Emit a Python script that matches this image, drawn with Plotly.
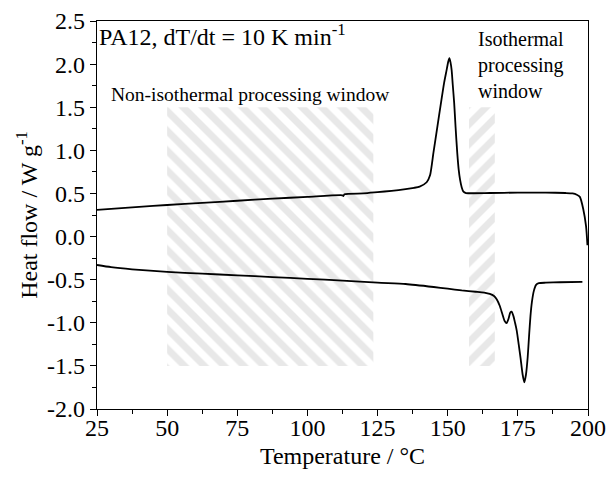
import plotly.graph_objects as go

# Upper curve (cooling, crystallisation peak)
T_up = [25, 40, 50, 62.5, 75, 87.5, 100, 112.5, 112.8, 113.2, 120, 125, 130, 135, 138, 140,
        142.5, 143.7, 144.9, 146.2, 147.6, 148.7, 149.6, 150.2, 150.6, 151.0, 151.4, 151.8,
        152.3, 152.8, 153.4, 153.9, 154.4, 155.0, 155.6, 156.5, 165, 175, 185, 192, 194.5,
        196, 197.1, 198.3, 199.3, 199.8]
HF_up = [0.31, 0.345, 0.366, 0.39, 0.415, 0.44, 0.46, 0.478, 0.47, 0.49, 0.50, 0.515, 0.53,
         0.55, 0.565, 0.58, 0.63, 0.71, 0.97, 1.25, 1.55, 1.78, 1.93, 2.03, 2.07, 2.02, 1.93,
         1.76, 1.55, 1.27, 0.97, 0.78, 0.66, 0.57, 0.52, 0.505, 0.505, 0.51, 0.51, 0.505, 0.50,
         0.485, 0.46, 0.32, 0.12, -0.1]

# Lower curve (heating, melting peaks)
T_lo = [25, 30, 37.5, 50, 62.5, 75, 87.5, 100, 112.5, 125, 135, 145, 150, 155, 160, 163, 165,
        166.5, 167.5, 168.5, 169.5, 170.3, 171.0, 171.7, 172.3, 172.8, 173.4, 174.0, 174.6,
        175.3, 176.0, 176.7, 177.3, 177.9, 178.5, 179.0, 179.5, 180.0, 180.7, 181.5, 182.5,
        185, 190, 198]
HF_lo = [-0.33, -0.355, -0.38, -0.41, -0.43, -0.45, -0.47, -0.49, -0.51, -0.535, -0.55,
         -0.585, -0.605, -0.625, -0.64, -0.65, -0.665, -0.69, -0.73, -0.80, -0.90, -0.98,
         -1.005, -0.95, -0.88, -0.87, -0.92, -1.00, -1.09, -1.25, -1.42, -1.60, -1.69, -1.60,
         -1.40, -1.15, -0.92, -0.76, -0.63, -0.56, -0.54, -0.535, -0.53, -0.525]

# Processing windows (x range, y range)
nonIso_T = [50, 123.5]
iso_T = [157.6, 166.8]
win_HF = [-1.5, 1.5]

x_ticks = [25, 50, 75, 100, 125, 150, 175, 200]
x_ticktext = ["25", "50", "75", "100", "125", "150", "175", "200"]
y_ticks = [-2.0, -1.5, -1.0, -0.5, 0.0, 0.5, 1.0, 1.5, 2.0, 2.5]
y_ticktext = ["-2.0", "-1.5", "-1.0", "-0.5", "0.0", "0.5", "1.0", "1.5", "2.0", "2.5"]

FONT = "Liberation Serif"

fig = go.Figure()

def rect(tr, yr):
    return [tr[0], tr[1], tr[1], tr[0], tr[0]], [yr[0], yr[0], yr[1], yr[1], yr[0]]

xs, ys = rect(nonIso_T, win_HF)
fig.add_trace(go.Scatter(x=xs, y=ys, fill="toself", mode="lines", line=dict(width=0),
                         fillcolor="rgba(0,0,0,0)",
                         fillpattern=dict(shape="\\", fgcolor="#d2d2d2", bgcolor="white",
                                          size=14, solidity=0.5),
                         hoverinfo="skip", showlegend=False))
xs, ys = rect(iso_T, win_HF)
fig.add_trace(go.Scatter(x=xs, y=ys, fill="toself", mode="lines", line=dict(width=0),
                         fillcolor="rgba(0,0,0,0)",
                         fillpattern=dict(shape="/", fgcolor="#d2d2d2", bgcolor="white",
                                          size=14, solidity=0.5),
                         hoverinfo="skip", showlegend=False))

fig.add_trace(go.Scatter(x=T_up, y=HF_up, mode="lines",
                         line=dict(color="black", width=1.8, shape="spline", smoothing=0.6),
                         showlegend=False))
fig.add_trace(go.Scatter(x=T_lo, y=HF_lo, mode="lines",
                         line=dict(color="black", width=1.8, shape="spline", smoothing=0.6),
                         showlegend=False))

fig.add_annotation(x=25, y=2.34, xref="x", yref="y", xanchor="left", yanchor="middle",
                   xshift=0,
                   text="PA12, dT/dt = 10 K min<sup>-1</sup>", showarrow=False,
                   font=dict(family=FONT, size=24, color="black"))
fig.add_annotation(x=79.5, y=1.65, xref="x", yref="y", xanchor="center", yanchor="middle",
                   text="Non-isothermal processing window", showarrow=False,
                   font=dict(family=FONT, size=19.5, color="black"))
fig.add_annotation(x=160.2, y=1.99, xref="x", yref="y", xanchor="left", yanchor="middle",
                   text="Isothermal<br>processing<br>window", showarrow=False, align="left",
                   font=dict(family=FONT, size=20, color="black"))

axis_common = dict(showline=True, linecolor="black", linewidth=1.3, mirror=True,
                   ticks="outside", ticklen=6, tickwidth=1.2, tickcolor="black",
                   showgrid=False, zeroline=False, automargin=False,
                   tickfont=dict(family=FONT, size=24, color="black"))

fig.update_xaxes(range=[25, 200], tickvals=x_ticks, ticktext=x_ticktext,
                 ticklabelstandoff=-9,
                 minor=dict(dtick=12.5, tick0=25, ticks="outside", ticklen=4, tickwidth=1.2,
                            tickcolor="black"),
                 title=dict(text="Temperature / °C", font=dict(family=FONT, size=24, color="black"),
                            standoff=7),
                 **axis_common)
fig.update_yaxes(range=[-2, 2.5], tickvals=y_ticks, ticktext=y_ticktext,
                 minor=dict(dtick=0.25, tick0=0, ticks="outside", ticklen=4, tickwidth=1.2,
                            tickcolor="black"),
                 title=dict(text="Heat flow / W g<sup>-1</sup>",
                            font=dict(family=FONT, size=24, color="black"), standoff=2),
                 **axis_common)

fig.update_layout(width=606, height=487, margin=dict(l=97, r=18, t=21, b=78),
                  paper_bgcolor="white", plot_bgcolor="white")

fig.write_html("out.html")
